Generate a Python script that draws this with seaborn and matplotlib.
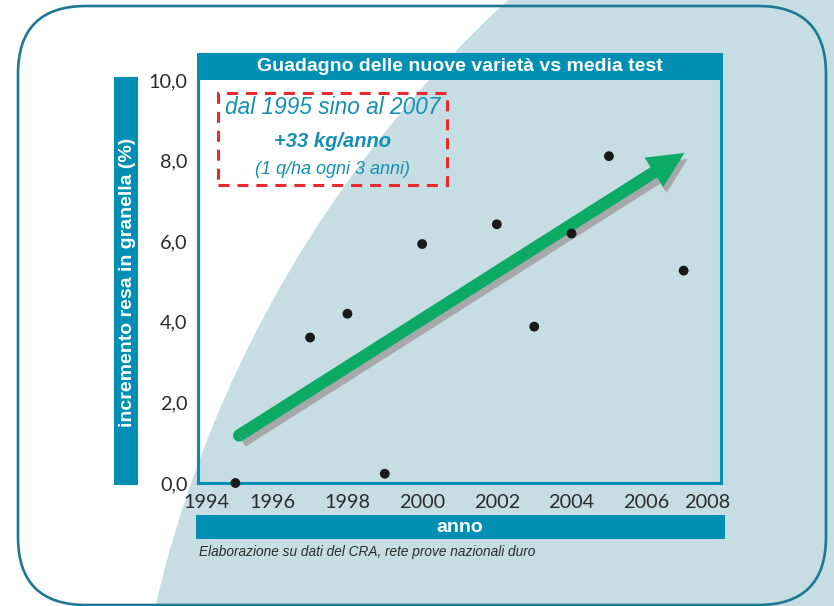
import matplotlib
matplotlib.use("Agg")
import matplotlib.pyplot as plt
import matplotlib.patches as mpatches
import matplotlib.patheffects as pe
import matplotlib.transforms as mtransforms
from matplotlib.ticker import FuncFormatter
import numpy as np
import pandas as pd
import seaborn as sns

# dati
anni = [1995, 1997, 1998, 1999, 2000, 2002, 2003, 2004, 2005, 2007]
incremento = [0.0, 3.61, 4.20, 0.23, 5.93, 6.42, 3.88, 6.19, 8.11, 5.27]
freccia_inizio = (1995.1, 1.18)
freccia_fine = (2007.02, 8.19)
x_ticks = [1994, 1996, 1998, 2000, 2002, 2004, 2006, 2008]
y_ticks = [0, 2, 4, 6, 8, 10]

titolo = "Guadagno delle nuove varietà vs media test"
label_y = "incremento resa in granella (%)"
label_x = "anno"
nota = "Elaborazione su dati del CRA, rete prove nazionali duro"
box_testi = ["dal 1995 sino al 2007", "+33 kg/anno", "(1 q/ha ogni 3 anni)"]

df = pd.DataFrame({"anno": anni, "incremento": incremento})

TEAL = "#008fb4"
TEAL_TXT = "#1590b5"
FRAME = "#1d7894"
LIGHT = "#c5dde3"
GREEN = "#0bab66"
SHADOW = "#a7a8ab"
RED = "#e82a2e"
SANS = ["Liberation Sans", "DejaVu Sans"]

sns.set_theme(style="white")
plt.rcParams["font.family"] = SANS

W, H = 834, 606
fig = plt.figure(figsize=(W / 100, H / 100), dpi=100, facecolor="white")
px = mtransforms.Affine2D().scale(1 / W, 1 / H) + fig.transFigure


def fy(y):
    # y in pixel dall'alto -> frazione figura
    return (H - y) / H


# sfondo curvo azzurro
fig.add_artist(mpatches.Circle((1320, H - 878), 1196, transform=px,
                               facecolor=LIGHT, edgecolor="none", zorder=-5))
# cornice arrotondata
fig.add_artist(mpatches.FancyBboxPatch((18, H - 605), 808, 599, transform=px,
                                       boxstyle="round,pad=0,rounding_size=68",
                                       facecolor="none", edgecolor=FRAME,
                                       linewidth=1.9, zorder=-4))

ax = fig.add_axes([198 / W, fy(483), 523 / W, 403 / H])
ax.set_facecolor("none")

sns.scatterplot(data=df, x="anno", y="incremento", ax=ax, color="#1a1a1a",
                s=50, edgecolor="none", zorder=5, legend=False, clip_on=False)

ax.set_xlim(1994, 2008)
ax.set_ylim(0, 10)
ax.set_xticks(x_ticks)
ax.set_yticks(y_ticks)
ax.yaxis.set_major_formatter(FuncFormatter(lambda v, p: f"{v:.1f}".replace(".", ",")))
ax.set_xlabel("")
ax.set_ylabel("")
for s in ["left", "bottom", "right"]:
    ax.spines[s].set_color(TEAL)
    ax.spines[s].set_linewidth(2.2)
ax.spines["top"].set_visible(False)
ax.tick_params(direction="out", length=4.5, width=2.2, color=TEAL,
               labelsize=14.3, labelcolor="#2b2b2b", pad=3)
ax.tick_params(axis="x", pad=3.5)
for lab in ax.get_xticklabels() + ax.get_yticklabels():
    lab.set_family(["Lato", "Liberation Sans", "DejaVu Sans"])

# sposto le etichette estreme come nell'originale
xl = ax.get_xticklabels()
xl[0].set_transform(xl[0].get_transform() + mtransforms.ScaledTranslation(0.08, 0, fig.dpi_scale_trans))
xl[-1].set_transform(xl[-1].get_transform() + mtransforms.ScaledTranslation(-0.14, 0, fig.dpi_scale_trans))

# freccia verde con ombra
ombra = [pe.SimplePatchShadow(offset=(2.4, -4.3), shadow_rgbFace=SHADOW, alpha=1), pe.Normal()]
ombra_linea = [pe.SimpleLineShadow(offset=(2.4, -4.3), shadow_color=SHADOW, alpha=1), pe.Normal()]
ax.plot([freccia_inizio[0]], [freccia_inizio[1]], marker="o", markersize=8.8,
        color=GREEN, markeredgewidth=0, zorder=3, path_effects=ombra_linea)
arrow = mpatches.FancyArrowPatch(freccia_inizio, freccia_fine,
                                 arrowstyle="simple,head_length=26,head_width=25,tail_width=8.8",
                                 mutation_scale=1, shrinkA=0, shrinkB=0,
                                 facecolor=GREEN, edgecolor="none", zorder=4,
                                 path_effects=ombra)
ax.add_patch(arrow)

# riquadro tratteggiato
ax.add_patch(mpatches.Rectangle((0.038, 0.74), 0.439, 0.228, transform=ax.transAxes,
                                facecolor="none", edgecolor=RED, linewidth=2.2,
                                linestyle=(0, (3.6, 2.6)), zorder=6))
ax.text(0.2575, 0.931, box_testi[0], transform=ax.transAxes, ha="center", va="center",
        fontsize=16.3, style="italic", color=TEAL_TXT, zorder=7)
ax.text(0.2575, 0.847, box_testi[1], transform=ax.transAxes, ha="center", va="center",
        fontsize=14.5, style="italic", fontweight="bold", color=TEAL_TXT, zorder=7)
ax.text(0.2575, 0.777, box_testi[2], transform=ax.transAxes, ha="center", va="center",
        fontsize=13, style="italic", color=TEAL_TXT, zorder=7)

# barre colorate con titolo ed etichette
fig.add_artist(mpatches.Rectangle((197 / W, fy(80)), 526 / W, 27 / H,
                                  transform=fig.transFigure, facecolor=TEAL, edgecolor="none", zorder=2))
fig.text(460 / W, fy(66.5), titolo, ha="center", va="center", color="white",
         fontsize=14, fontweight="bold", zorder=3)

fig.add_artist(mpatches.Rectangle((114 / W, fy(485)), 24 / W, 408 / H,
                                  transform=fig.transFigure, facecolor=TEAL, edgecolor="none", zorder=2))
fig.text(127 / W, fy(282), label_y, ha="center", va="center", rotation=90, color="white",
         fontsize=14, fontweight="bold", zorder=3)

fig.add_artist(mpatches.Rectangle((196 / W, fy(539)), 529 / W, 24 / H,
                                  transform=fig.transFigure, facecolor=TEAL, edgecolor="none", zorder=2))
fig.text(460 / W, fy(527), label_x, ha="center", va="center", color="white",
         fontsize=14, fontweight="bold", zorder=3)

fig.text(199 / W, fy(552), nota, ha="left", va="center", color="#2b2b2b",
         fontsize=9.8, style="italic")

fig.savefig("out.png", dpi=100, facecolor="white")
